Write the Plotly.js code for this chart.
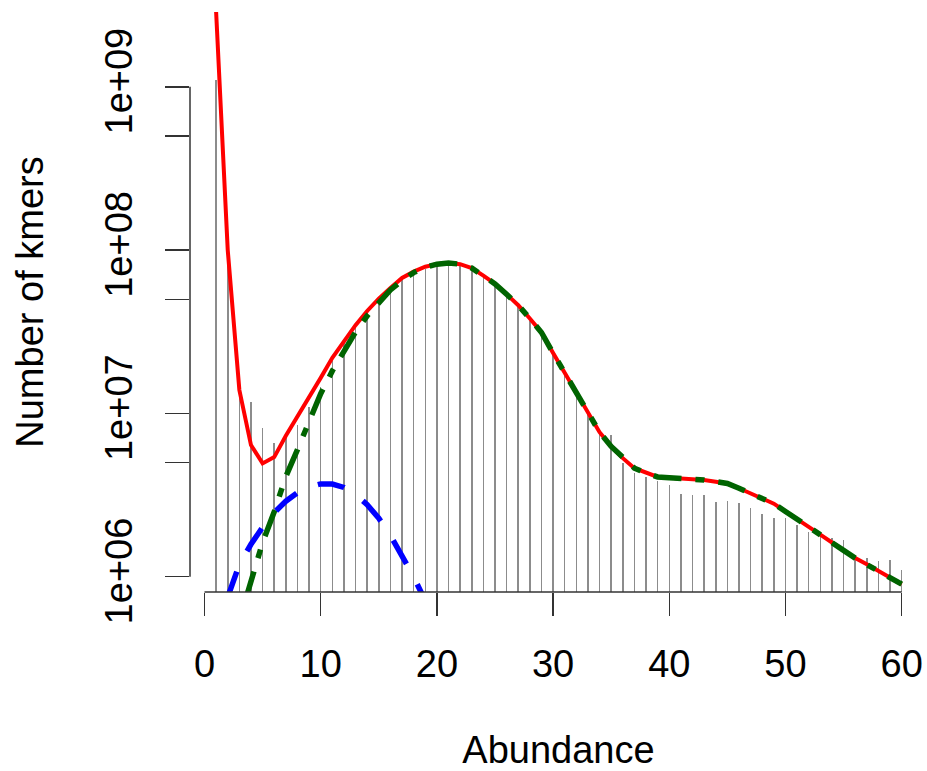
<!DOCTYPE html>
<html>
<head>
<meta charset="utf-8">
<script src="https://cdn.plot.ly/plotly-3.0.1.min.js"></script>
<style>html,body{margin:0;padding:0;background:#fff;}#chart{width:927px;height:771px;}</style>
</head>
<body>
<div id="chart"></div>
<script>
// Abundance (k-mer multiplicity) values
var abundance = [1,2,3,4,5,6,7,8,9,10,11,12,13,14,15,16,17,18,19,20,
  21,22,23,24,25,26,27,28,29,30,31,32,33,34,35,36,37,38,39,40,
  41,42,43,44,45,46,47,48,49,50,51,52,53,54,55,56,57,58,59,60];

// Observed number of kmers (histogram lines)
var kmerCounts = [1.1e9,9.5e7,1.3e7,1.18e7,8.1e6,6.6e6,7.1e6,8.5e6,1.1e7,1.45e7,
  2.1e7,2.7e7,3.4e7,4.1e7,4.9e7,5.7e7,6.6e7,7.2e7,7.7e7,8.0e7,
  8.1e7,8.0e7,7.6e7,6.8e7,6.1e7,5.2e7,4.5e7,3.7e7,3.05e7,2.28e7,
  1.72e7,1.3e7,1.0e7,7.5e6,7.4e6,4.94e6,4.3e6,4.1e6,3.85e6,3.65e6,
  3.2e6,3.16e6,3.16e6,2.88e6,2.91e6,2.81e6,2.62e6,2.41e6,2.28e6,2.28e6,
  2.07e6,1.89e6,1.76e6,1.72e6,1.68e6,1.36e6,1.3e6,1.24e6,1.26e6,1.1e6];

// Full model fit (red)
var fitTotal = [2.87e9,1.0e8,1.39e7,6.4e6,4.94e6,5.4e6,7.3e6,9.5e6,1.24e7,1.65e7,
  2.19e7,2.78e7,3.47e7,4.24e7,5.05e7,5.87e7,6.75e7,7.38e7,7.91e7,8.2e7,
  8.34e7,8.2e7,7.76e7,6.97e7,6.21e7,5.36e7,4.6e7,3.81e7,3.13e7,2.34e7,
  1.76e7,1.34e7,1.02e7,7.67e6,6.28e6,5.32e6,4.62e6,4.31e6,4.08e6,4.04e6,
  4.01e6,3.99e6,3.91e6,3.82e6,3.72e6,3.48e6,3.24e6,3.01e6,2.8e6,2.51e6,
  2.24e6,2.01e6,1.81e6,1.62e6,1.45e6,1.30e6,1.19e6,1.08e6,9.86e5,9.0e5];

// Genomic component fit (green dot-dash)
var mainAbund = [3,4,5,6,7,8,9,10,11,12,13,14,15,16,17,18,19,20,
  21,22,23,24,25,26,27,28,29,30,31,32,33,34,35,36,37,38,39,40,
  41,42,43,44,45,46,47,48,49,50,51,52,53,54,55,56,57,58,59,60];
var fitMain = [5.4e5,9.5e5,1.62e6,2.5e6,4.1e6,6.0e6,8.9e6,1.32e7,
  1.82e7,2.43e7,3.15e7,3.96e7,4.82e7,5.70e7,6.53e7,7.28e7,7.85e7,8.2e7,
  8.34e7,8.2e7,7.76e7,6.97e7,6.21e7,5.36e7,4.6e7,3.81e7,3.13e7,2.34e7,
  1.76e7,1.34e7,1.02e7,7.67e6,6.28e6,5.32e6,4.62e6,4.31e6,4.08e6,4.04e6,
  4.01e6,3.99e6,3.91e6,3.82e6,3.72e6,3.48e6,3.24e6,3.01e6,2.8e6,2.51e6,
  2.24e6,2.01e6,1.81e6,1.62e6,1.45e6,1.30e6,1.19e6,1.08e6,9.86e5,9.0e5];

// Secondary component fit (blue dashed)
var lowAbund = [2,3,4,5,6,7,8,9,10,11,12,13,14,15,16,17,18,19];
var fitLow = [7.5e5,1.19e6,1.58e6,2.01e6,2.47e6,2.90e6,3.27e6,3.55e6,3.70e6,
  3.69e6,3.52e6,3.19e6,2.76e6,2.28e6,1.79e6,1.34e6,1.0e6,7.1e5];

// Axis ticks
var xTickVals = [0,10,20,30,40,50,60];
var yTickVals = [1e6,5e6,1e7,5e7,1e8,5e8,1e9];
var yTickText = ['1e+06','','1e+07','','1e+08','','1e+09'];

var FONT = 'Liberation Sans, Arial, Helvetica, sans-serif';
var FS = 38;

var traces = [
  {type:'bar', x:abundance, y:kmerCounts, width:0.13,
   marker:{color:'#8c8c8c', line:{width:0}}, hoverinfo:'skip'},
  {type:'scatter', mode:'lines', x:abundance, y:fitTotal,
   line:{color:'#ff0000', width:4}},
  {type:'scatter', mode:'lines', x:mainAbund, y:fitMain,
   line:{color:'#006400', width:5.5, dash:'9px,14px,28px,14px'}},
  {type:'scatter', mode:'lines', x:lowAbund, y:fitLow,
   line:{color:'#0000ff', width:5.5, dash:'27px,23px'}}
];

var layout = {
  width:927, height:771,
  margin:{l:190, r:0, t:12, b:179, pad:0},
  paper_bgcolor:'#ffffff', plot_bgcolor:'#ffffff',
  showlegend:false,
  bargap:0,
  font:{family:FONT, size:FS, color:'#000'},
  xaxis:{
    range:[-1.248, 62.18], autorange:false,
    tickmode:'array', tickvals:xTickVals,
    ticks:'outside', ticklen:23, tickwidth:1.5, tickcolor:'#333',
    showgrid:false, zeroline:false, showline:false,
    tickfont:{family:FONT, size:FS, color:'#000'},
    ticklabelstandoff:15,
    title:{text:'Abundance', font:{family:FONT, size:FS, color:'#000'}, standoff:75},
    automargin:false
  },
  yaxis:{
    type:'log', range:[5.9063, 9.458], autorange:false,
    tickmode:'array', tickvals:yTickVals, ticktext:yTickText,
    ticks:'outside', ticklen:24, tickwidth:1.5, tickcolor:'#333',
    tickangle:-90,
    showgrid:false, zeroline:false, showline:false,
    tickfont:{family:FONT, size:FS, color:'#000'},
    ticklabelstandoff:18,
    title:{text:'Number of kmers', font:{family:FONT, size:FS, color:'#000'}, standoff:42},
    automargin:false
  },
  shapes:[
    {type:'line', xref:'x', yref:'paper', x0:xTickVals[0], x1:xTickVals[xTickVals.length-1], y0:0, y1:0,
     line:{color:'#333', width:1.5}},
    {type:'line', xref:'paper', yref:'y', x0:0, x1:0, y0:yTickVals[0], y1:yTickVals[yTickVals.length-1],
     line:{color:'#333', width:1.5}}
  ]
};

Plotly.newPlot('chart', traces, layout, {displayModeBar:false, staticPlot:true});
</script>
</body>
</html>
